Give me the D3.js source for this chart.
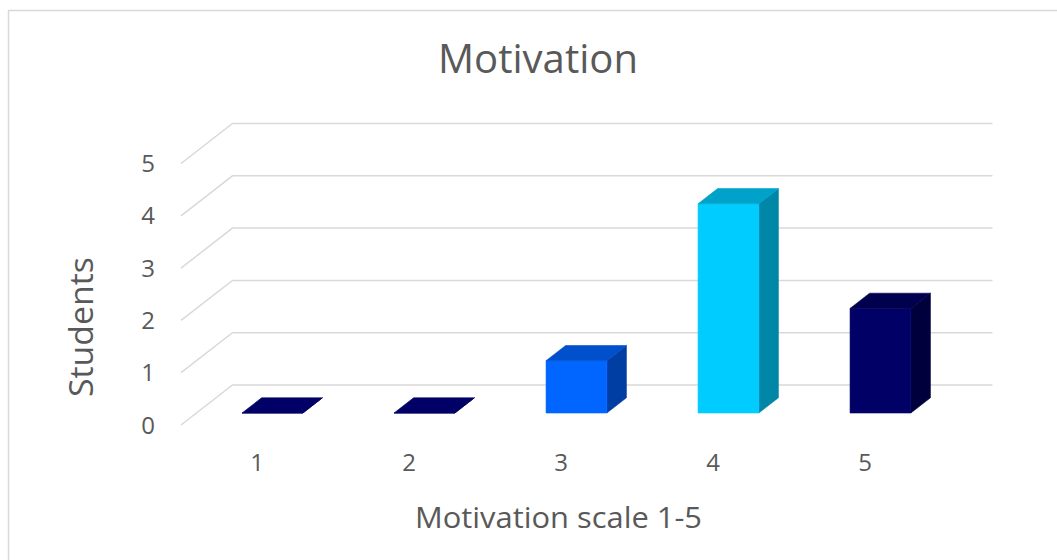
<!DOCTYPE html>
<html>
<head>
<meta charset="utf-8">
<script src="https://cdn.jsdelivr.net/npm/d3@7"></script>
<style>
  html, body { margin: 0; padding: 0; background: #fff; }
  svg { display: block; }
  text { font-family: "Open Sans", "Noto Sans", sans-serif; fill: #595959; }
</style>
</head>
<body>
<svg id="chart" width="1057" height="560"></svg>
<script>
// Data
const categories = ["1", "2", "3", "4", "5"];
const students = [0, 0, 1, 4, 2];
const yTicks = [0, 1, 2, 3, 4, 5];
const frontColors = ["#000066", "#000066", "#0066ff", "#00ccff", "#000066"];
const sideColors  = ["#00003d", "#00003d", "#003ea3", "#0086a6", "#00003d"];
const topColors   = ["#00004f", "#00004f", "#0050cc", "#00a2c9", "#00004f"];

const titleText = "Motivation";
const xTitle = "Motivation scale 1-5";
const yTitle = "Students";

const svg = d3.select("#chart");

// Chart area border
svg.append("rect")
  .attr("x", 8.5).attr("y", 10.5)
  .attr("width", 1100).attr("height", 600)
  .attr("fill", "#fff")
  .attr("stroke", "#d9d9d9").attr("stroke-width", 1.5);

// Oblique 3D projection: depth d in [0,1] shifts right and up
const DX = 51.5, DY = -40;
const x = d3.scaleBand().domain(categories).range([181, 941])
  .paddingInner(0.6).paddingOuter(0.3);
const y = d3.scaleLinear().domain([0, 5]).range([425, 163.5]);
const P = (px, v, d) => [px + d * DX, y(v) + d * DY];
const xLeft = x.range()[0], xRight = x.range()[1];

// Side wall diagonals + back wall gridlines
const grid = svg.append("g");
yTicks.forEach(t => {
  const pts = [P(xLeft, t, 0), P(xLeft, t, 1), P(xRight, t, 1)];
  grid.append("path")
    .attr("d", d3.line()(pts))
    .attr("fill", "none")
    .attr("stroke", "#d9d9d9")
    .attr("stroke-width", 1.5);
});

// Columns
const D0 = 0.3, D1 = 0.68;
const bars = svg.append("g");
categories.forEach((c, i) => {
  const v = students[i];
  const x0 = x(c), x1 = x(c) + x.bandwidth();
  const g = bars.append("g");
  const poly = (pts, fill) => g.append("path")
    .attr("d", d3.line()(pts) + "Z")
    .attr("fill", fill)
    .attr("stroke", fill).attr("stroke-width", 0.6)
    .attr("stroke-linejoin", "round");
  // side face
  poly([P(x1, 0, D0), P(x1, 0, D1), P(x1, v, D1), P(x1, v, D0)], sideColors[i]);
  // front face
  poly([P(x0, 0, D0), P(x1, 0, D0), P(x1, v, D0), P(x0, v, D0)], frontColors[i]);
  // top face
  poly([P(x0, v, D0), P(x1, v, D0), P(x1, v, D1), P(x0, v, D1)], v === 0 ? frontColors[i] : topColors[i]);
});

// Y tick labels
svg.append("g").selectAll("text").data(yTicks).join("text")
  .attr("x", 155).attr("y", d => y(d))
  .attr("dy", "0.36em")
  .attr("text-anchor", "end")
  .attr("font-size", 24)
  .text(d => d);

// Category labels
svg.append("g").selectAll("text").data(categories).join("text")
  .attr("x", d => x(d) + x.bandwidth() / 2)
  .attr("y", 471)
  .attr("text-anchor", "middle")
  .attr("font-size", 24)
  .text(d => d);

// Titles
svg.append("text")
  .attr("x", 538).attr("y", 72.5)
  .attr("text-anchor", "middle")
  .attr("font-size", 40)
  .attr("textLength", 200).attr("lengthAdjust", "spacingAndGlyphs")
  .text(titleText);

svg.append("text")
  .attr("x", 558.5).attr("y", 528)
  .attr("text-anchor", "middle")
  .attr("font-size", 29)
  .attr("textLength", 287).attr("lengthAdjust", "spacingAndGlyphs")
  .text(xTitle);

svg.append("text")
  .attr("transform", "translate(93,327) rotate(-90)")
  .attr("text-anchor", "middle")
  .attr("font-size", 33)
  .attr("textLength", 140).attr("lengthAdjust", "spacingAndGlyphs")
  .text(yTitle);
</script>
</body>
</html>
